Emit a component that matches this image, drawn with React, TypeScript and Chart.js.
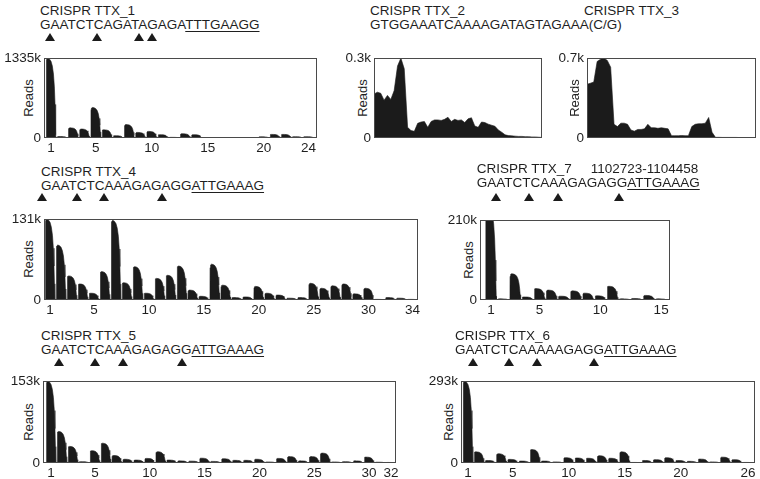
import React, { useEffect, useRef } from "react";
import { Chart, registerables } from "chart.js";

Chart.register(...registerables);

const FONT = '"Liberation Sans", Arial, Helvetica, sans-serif';
const INK = "#1b1b1b";
const TEXT = "#1f1f1f";
const FRAME = "#4a4a4a";

// ---------- data (thousands of reads) ----------
const TTX1_READS = [1335, 25, 170, 150, 510, 137, 38, 225, 93, 110, 55, 11, 71, 55, 8, 5, 5, 8, 8, 20, 60, 60, 22, 22];
const TTX1_TICKS = [1, 5, 10, 15, 20, 24];
const TTX1_MAX = 1335;

const TTX2_PROFILE = [0.165, 0.172, 0.168, 0.142, 0.16, 0.145, 0.178, 0.27, 0.3, 0.26, 0.04, 0.028, 0.025, 0.055, 0.06, 0.062, 0.04, 0.062, 0.068, 0.068, 0.066, 0.07, 0.078, 0.062, 0.07, 0.066, 0.068, 0.058, 0.072, 0.076, 0.045, 0.04, 0.06, 0.058, 0.052, 0.048, 0.044, 0.03, 0.022, 0.012, 0.009, 0.008, 0.007, 0.006, 0.006, 0.005, 0.005, 0.004, 0.004, 0.003, 0.002];
const TTX2_MAX = 0.3;

const TTX3_PROFILE = [0.47, 0.48, 0.49, 0.67, 0.69, 0.7, 0.68, 0.62, 0.12, 0.1, 0.13, 0.13, 0.12, 0.07, 0.06, 0.075, 0.075, 0.08, 0.12, 0.09, 0.09, 0.085, 0.09, 0.085, 0.08, 0.02, 0.02, 0.02, 0.022, 0.02, 0.02, 0.1, 0.12, 0.125, 0.125, 0.13, 0.18, 0.05, 0.006, 0.006, 0.005, 0.005, 0.005, 0.005, 0.005, 0.004, 0.004, 0.004, 0.004, 0.003, 0.003];
const TTX3_MAX = 0.7;

const TTX4_READS = [131, 89, 39, 26, 11, 46, 129, 28, 54, 11, 35, 40, 55, 16, 6, 58, 24, 4, 5, 22, 11, 8, 3, 4, 27, 19, 23, 26, 10, 19, 1, 4, 3, 1];
const TTX4_TICKS = [1, 5, 10, 15, 20, 25, 30, 34];
const TTX4_MAX = 131;

const TTX7_READS = [250, 3, 69, 8, 30, 26, 10, 24, 18, 11, 36, 3, 4, 12, 3];
const TTX7_TICKS = [1, 5, 10, 15];
const TTX7_MAX = 210;

const TTX5_READS = [153, 59, 31, 2.5, 23, 37, 14, 7, 5.5, 8.6, 21, 5.5, 4, 3.5, 9, 3, 8, 5, 5, 7, 2, 8.6, 12, 4, 12, 18.5, 2, 2.5, 4, 11, 1.5, 1];
const TTX5_TICKS = [1, 5, 10, 15, 20, 25, 30, 32];
const TTX5_MAX = 153;

const TTX6_READS = [293, 40, 9, 33, 13, 7, 48, 7, 4, 19, 18, 17, 26, 17, 40, 2, 9, 12, 19, 9, 6, 14, 4, 21, 12, 2];
const TTX6_TICKS = [1, 5, 10, 15, 20, 26];
const TTX6_MAX = 293;

// ---------- drawing helpers ----------
// outline of one read pile-up around its position (offset in positions, fraction of the value)
const BUMP_SHAPE: [number, number][] = [
  [-0.44, 0], [-0.43, 0.9], [-0.38, 0.98], [-0.3, 1], [-0.15, 0.99], [0, 0.96],
  [0.12, 0.9], [0.22, 0.8], [0.3, 0.64], [0.36, 0.42], [0.4, 0.2], [0.43, 0.04], [0.45, 0],
];

function bumpPoints(values: number[]) {
  const pts: { x: number; y: number }[] = [];
  values.forEach((v, i) => {
    const p = i + 1;
    BUMP_SHAPE.forEach(([dx, f]) => pts.push({ x: p + dx, y: v * f }));
  });
  return pts;
}

function profilePoints(values: number[]) {
  return values.map((v, i) => ({ x: i, y: v }));
}

const framePlugin = {
  id: "frameBox",
  afterDatasetsDraw(chart: any) {
    const { ctx, chartArea: a } = chart;
    ctx.save();
    ctx.strokeStyle = FRAME;
    ctx.lineWidth = 1;
    ctx.strokeRect(Math.round(a.left) + 0.5, Math.round(a.top) + 0.5, Math.round(a.right - a.left) - 1, Math.round(a.bottom - a.top) - 1);
    ctx.restore();
  },
};

type PanelProps = {
  frame: [number, number, number, number];
  points: { x: number; y: number }[];
  xMin: number;
  xMax: number;
  xTicks: number[];
  yMax: number;
};

const AXW = 50;
const PADT = 10;
const PADR = 14;
const AXH = 24;

function Panel({ frame, points, xMin, xMax, xTicks, yMax }: PanelProps) {
  const ref = useRef<HTMLCanvasElement>(null);
  const [l, t, r, b] = frame;
  const w = r - l + AXW + PADR;
  const h = b - t + PADT + AXH;
  useEffect(() => {
    const chart = new Chart(ref.current as HTMLCanvasElement, {
      type: "line",
      data: {
        datasets: [
          {
            data: points,
            fill: "origin",
            backgroundColor: INK,
            borderColor: INK,
            borderWidth: 0.6,
            pointRadius: 0,
            tension: 0,
          },
        ],
      },
      options: {
        animation: false,
        responsive: false,
        events: [],
        layout: { padding: { top: PADT, right: PADR, left: 0, bottom: 0 } },
        plugins: { legend: { display: false }, tooltip: { enabled: false }, title: { display: false } },
        scales: {
          x: {
            type: "linear",
            min: xMin,
            max: xMax,
            grid: { display: false, drawTicks: false },
            border: { display: false },
            afterBuildTicks: (s: any) => {
              s.ticks = xTicks.map((v) => ({ value: v }));
            },
            afterFit: (s: any) => {
              s.height = AXH;
            },
            ticks: {
              display: xTicks.length > 0,
              autoSkip: false,
              maxRotation: 0,
              minRotation: 0,
              padding: 2,
              color: TEXT,
              font: { family: FONT, size: 13.5 },
              callback: (v: any) => String(v),
            },
          },
          y: {
            type: "linear",
            min: 0,
            max: yMax,
            grid: { display: false, drawTicks: false },
            border: { display: false },
            afterBuildTicks: (s: any) => {
              s.ticks = [{ value: 0 }, { value: yMax }];
            },
            afterFit: (s: any) => {
              s.width = AXW;
            },
            ticks: {
              padding: 3,
              color: TEXT,
              font: { family: FONT, size: 13.5 },
              callback: (v: any) => (Number(v) === 0 ? "0" : `${yMax}k`),
            },
          },
        },
      },
      plugins: [framePlugin],
    } as any);
    return () => chart.destroy();
  }, []);
  return (
    <canvas
      ref={ref}
      width={w}
      height={h}
      style={{ position: "absolute", left: l - AXW, top: t - PADT, width: w, height: h, display: "block" }}
    />
  );
}

const FS = 13.5;
const capOffset = 1.8; // distance from line box top to cap top for this font and line-height

function Line({ x, capTop, children }: { x: number; capTop: number; children: React.ReactNode }) {
  return (
    <div
      style={{
        position: "absolute",
        left: x,
        top: capTop - capOffset,
        fontFamily: FONT,
        fontSize: FS,
        lineHeight: `${FS}px`,
        color: TEXT,
        whiteSpace: "nowrap",
      }}
    >
      {children}
    </div>
  );
}

function Seq({ x, capTop, plain, pam }: { x: number; capTop: number; plain: string; pam?: string }) {
  return (
    <Line x={x} capTop={capTop}>
      {plain}
      {pam ? (
        <span style={{ textDecoration: "underline", textDecorationThickness: "1px", textUnderlineOffset: "1.5px" }}>{pam}</span>
      ) : null}
    </Line>
  );
}

function Marks({ xs, top }: { xs: number[]; top: number }) {
  return (
    <>
      {xs.map((cx, i) => (
        <div
          key={i}
          style={{
            position: "absolute",
            left: cx - 5,
            top,
            width: 0,
            height: 0,
            borderLeft: "5px solid transparent",
            borderRight: "5px solid transparent",
            borderBottom: `8px solid ${INK}`,
          }}
        />
      ))}
    </>
  );
}

function Reads({ cx, cy }: { cx: number; cy: number }) {
  return (
    <div
      style={{
        position: "absolute",
        left: cx - 30,
        top: cy - 8,
        width: 60,
        height: 16,
        lineHeight: "16px",
        textAlign: "center",
        fontFamily: FONT,
        fontSize: 13,
        color: TEXT,
        transform: "rotate(-90deg)",
      }}
    >
      Reads
    </div>
  );
}

export default function App() {
  return (
    <div style={{ position: "absolute", left: 0, top: 0, width: 760, height: 479, background: "#fff", overflow: "hidden" }}>
      {/* TTX_1 */}
      <Line x={40} capTop={6}>CRISPR TTX_1</Line>
      <Seq x={40} capTop={20} plain="GAATCTCAGATAGAGA" pam="TTTGAAGG" />
      <Marks xs={[50, 96.7, 139.3, 151.7]} top={33} />
      <Reads cx={28.5} cy={97.5} />
      <Panel frame={[44, 57, 317, 138]} points={bumpPoints(TTX1_READS)} xMin={0.375} xMax={24.75} xTicks={TTX1_TICKS} yMax={TTX1_MAX} />

      {/* TTX_2 */}
      <Line x={370} capTop={6}>CRISPR TTX_2</Line>
      <Seq x={370} capTop={20} plain="GTGGAAATCAAAAGATAGTAGAAA(C/G)" />
      <Reads cx={363} cy={97.5} />
      <Panel frame={[374, 57, 542, 138]} points={profilePoints(TTX2_PROFILE)} xMin={0} xMax={TTX2_PROFILE.length - 1} xTicks={[]} yMax={TTX2_MAX} />

      {/* TTX_3 */}
      <Line x={584} capTop={6}>CRISPR TTX_3</Line>
      <Reads cx={575} cy={97.5} />
      <Panel frame={[587, 57, 756, 138]} points={profilePoints(TTX3_PROFILE)} xMin={0} xMax={TTX3_PROFILE.length - 1} xTicks={[]} yMax={TTX3_MAX} />

      {/* TTX_4 */}
      <Line x={41} capTop={166.5}>CRISPR TTX_4</Line>
      <Seq x={41} capTop={180.5} plain="GAATCTCAAAGAGAGG" pam="ATTGAAAG" />
      <Marks xs={[41.7, 76.7, 104, 161.7]} top={193} />
      <Reads cx={28.5} cy={259} />
      <Panel frame={[44, 218, 418, 300]} points={bumpPoints(TTX4_READS)} xMin={0.45} xMax={34.5} xTicks={TTX4_TICKS} yMax={TTX4_MAX} />

      {/* TTX_7 */}
      <Line x={476.7} capTop={164}>
        CRISPR TTX_7<span style={{ display: "inline-block", width: 19 }} />1102723-1104458
      </Line>
      <Seq x={476.7} capTop={178} plain="GAATCTCAAAGAGAGG" pam="ATTGAAAG" />
      <Marks xs={[495.7, 529.3, 558.3, 619]} top={193} />
      <Reads cx={468.5} cy={259.5} />
      <Panel frame={[480, 219, 670, 300]} points={bumpPoints(TTX7_READS)} xMin={0.095} xMax={15.73} xTicks={TTX7_TICKS} yMax={TTX7_MAX} />

      {/* TTX_5 */}
      <Line x={41} capTop={330.7}>CRISPR TTX_5</Line>
      <Seq x={41} capTop={345} plain="GAATCTCAAAGAGAGG" pam="ATTGAAAG" />
      <Marks xs={[59.3, 95, 123.3, 182.3]} top={358.3} />
      <Reads cx={28.5} cy={421.5} />
      <Panel frame={[43, 380, 396, 463]} points={bumpPoints(TTX5_READS)} xMin={0.27} xMax={32.45} xTicks={TTX5_TICKS} yMax={TTX5_MAX} />

      {/* TTX_6 */}
      <Line x={455} capTop={330.7}>CRISPR TTX_6</Line>
      <Seq x={455} capTop={345} plain="GAATCTCAAAAAGAGG" pam="ATTGAAAG" />
      <Marks xs={[473.3, 509, 537.3, 594.3]} top={358.3} />
      <Reads cx={449} cy={421.5} />
      <Panel frame={[461, 380, 755, 463]} points={bumpPoints(TTX6_READS)} xMin={0.38} xMax={26.63} xTicks={TTX6_TICKS} yMax={TTX6_MAX} />
    </div>
  );
}
